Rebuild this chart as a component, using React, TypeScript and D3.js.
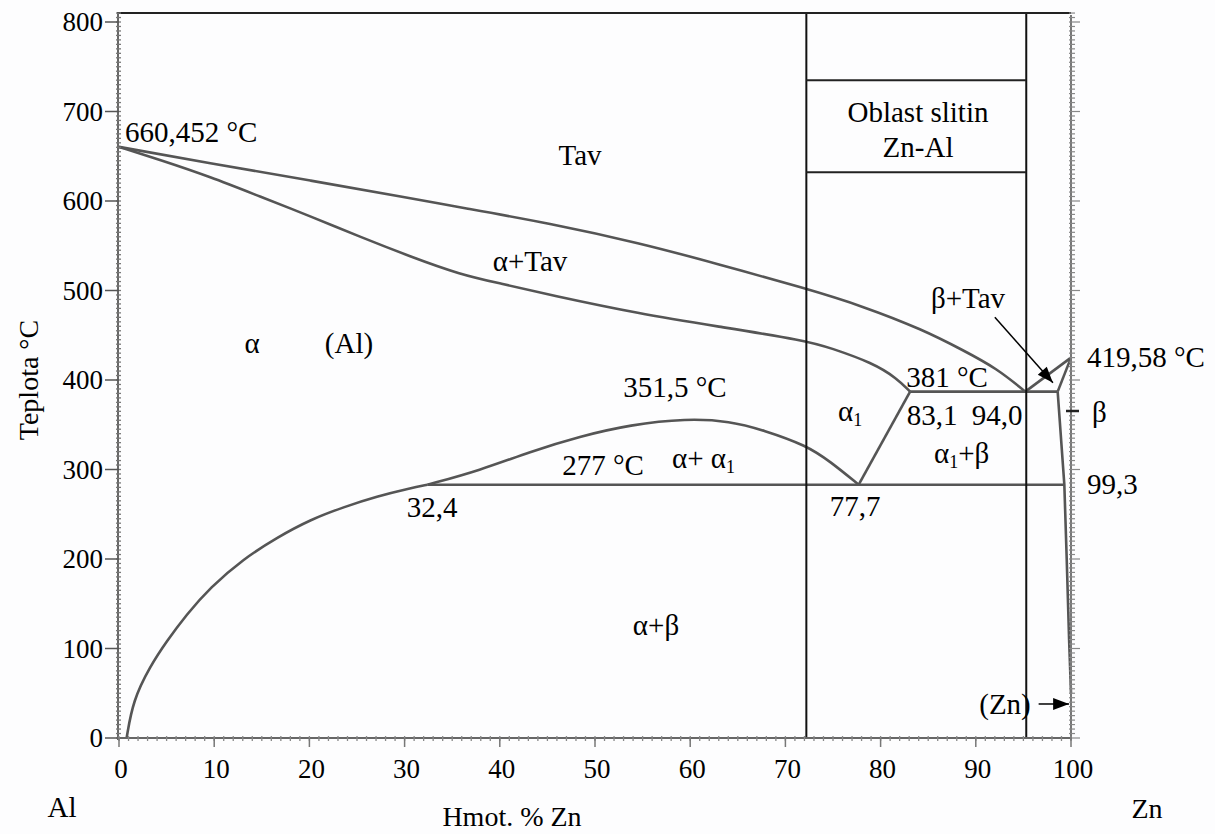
import React from "react";
import * as d3 from "d3";

// ---- data (wt.% Zn, temperature °C) ----
const X_TICKS = [0, 10, 20, 30, 40, 50, 60, 70, 80, 90, 100];
const Y_TICKS = [0, 100, 200, 300, 400, 500, 600, 700, 800];

const liquidusAl: [number, number][] = [
  [0, 660.452], [9.6, 642], [20.1, 623], [30.6, 603], [35.8, 593], [45.3, 575],
  [54.7, 553], [62.8, 530], [72.2, 502], [78, 483], [84.5, 456], [88.7, 433],
  [92.2, 413], [95.2, 387],
];
const solidusAl: [number, number][] = [
  [0, 660.452], [4.3, 646], [9.6, 627], [14.8, 605], [20.1, 583], [25.3, 560],
  [30.6, 538], [35.8, 518], [40, 508], [45.3, 495], [54.7, 474], [62.8, 460],
  [72.2, 444], [74.7, 436], [79.2, 419], [81.7, 402], [83.1, 387],
];
const alphaSolvus: [number, number][] = [
  [0.8, 0], [1.47, 42], [3.26, 80], [5.0, 108], [7.1, 138], [9.56, 168],
  [13.05, 200], [16.6, 224], [20.1, 244], [23.6, 258], [27.1, 270], [30.6, 279], [32.4, 283],
];
const miscibilityDome: [number, number][] = [
  [32.4, 283], [37.9, 299], [43.2, 320], [48.4, 337], [53.7, 350], [59.6, 357],
  [64.2, 354], [67.7, 344], [72.2, 327], [74.7, 309], [77.7, 283],
];
const alpha1Solvus: [number, number][] = [[77.7, 283], [83.1, 387]];
const eutecticLine: [number, number][] = [[83.1, 387], [98.6, 387]];
const monotectoidLine: [number, number][] = [[32.4, 283], [99.3, 283]];
const liquidusZn: [number, number][] = [[95.2, 387], [100, 425]];
const solidusZn: [number, number][] = [[98.6, 387], [100, 425]];
const betaSolvus: [number, number][] = [
  [98.6, 387], [99.3, 283], [99.55, 200], [99.8, 110], [100, 50],
];

const alloyBoxX = [72.2, 95.3];
const alloyBoxT = [632, 735];

const FONT = "'Liberation Serif', 'Times New Roman', serif";

export default function App() {
  const W = 1215, H = 834;
  const x = d3.scaleLinear().domain([0, 100]).range([119, 1071]);
  const y = d3.scaleLinear().domain([0, 800]).range([738, 22]);
  const T_TOP = 810;

  const smooth = d3.line<[number, number]>()
    .x(d => x(d[0])).y(d => y(d[1]))
    .curve(d3.curveBasis);
  const straight = d3.line<[number, number]>()
    .x(d => x(d[0])).y(d => y(d[1]));

  const curveStyle = { fill: "none", stroke: "#555", strokeWidth: 2.6, strokeLinejoin: "round" as const };

  const minorY = d3.range(0, 811, 5);
  const minorX = d3.range(0, 101, 1);

  const sub = (base: string, s: string, extra = "") => (
    <>
      {base}
      <tspan fontSize="0.62em" dy="5">{s}</tspan>
      {extra ? <tspan dy="-5">{extra}</tspan> : null}
    </>
  );

  const arrowPath = (x1: number, y1: number, x2: number, y2: number, len = 16, w = 6) => {
    const ang = Math.atan2(y2 - y1, x2 - x1);
    const bx = x2 - len * Math.cos(ang), by = y2 - len * Math.sin(ang);
    const px = -Math.sin(ang) * w, py = Math.cos(ang) * w;
    return `M${x2},${y2}L${bx + px},${by + py}L${bx - px},${by - py}Z`;
  };

  const a1 = { x1: x(92.0), y1: y(470), x2: x(98.1), y2: y(397) };
  const a2 = { x1: x(96.6), y1: y(38), x2: x(99.8), y2: y(38) };

  const AF = 29;

  return (
    <div style={{ position: "absolute", left: 0, top: 0 }}>
      <svg width={W} height={H} style={{ display: "block", background: "#fdfdfe", fontFamily: FONT }}>
        {/* curves */}
        <path d={smooth(liquidusAl) || ""} {...curveStyle} />
        <path d={smooth(solidusAl) || ""} {...curveStyle} />
        <path d={smooth(alphaSolvus) || ""} {...curveStyle} />
        <path d={smooth(miscibilityDome) || ""} {...curveStyle} />
        <path d={straight(alpha1Solvus) || ""} {...curveStyle} />
        <path d={straight(eutecticLine) || ""} {...curveStyle} />
        <path d={straight(monotectoidLine) || ""} {...curveStyle} />
        <path d={straight(liquidusZn) || ""} {...curveStyle} />
        <path d={straight(solidusZn) || ""} {...curveStyle} />
        <path d={straight(betaSolvus) || ""} {...curveStyle} />

        {/* alloy region box */}
        {alloyBoxX.map((v, i) => (
          <line key={"bv" + i} x1={x(v)} x2={x(v)} y1={y(T_TOP)} y2={y(0)} stroke="#111" strokeWidth={2} />
        ))}
        {alloyBoxT.map((t, i) => (
          <line key={"bh" + i} x1={x(alloyBoxX[0])} x2={x(alloyBoxX[1])} y1={y(t)} y2={y(t)} stroke="#222" strokeWidth={2} />
        ))}

        {/* frame top */}
        <line x1={x(0) - 2} x2={x(100)} y1={y(T_TOP)} y2={y(T_TOP)} stroke="#222" strokeWidth={2} />

        {/* left axis */}
        <line x1={x(0) - 1} x2={x(0) - 1} y1={y(T_TOP)} y2={y(0) + 2} stroke="#666" strokeWidth={2} />
        {minorY.map(t => (
          <line key={"ly" + t} x1={x(0) - 3} x2={x(0) + 2} y1={y(t)} y2={y(t)} stroke="#777" strokeWidth={1.3} />
        ))}
        {Y_TICKS.map(t => (
          <g key={"yt" + t}>
            <line x1={x(0) - 14} x2={x(0)} y1={y(t)} y2={y(t)} stroke="#555" strokeWidth={1.5} />
            <text x={x(0) - 16} y={y(t)} dy="0.35em" textAnchor="end" fontSize={27} fill="#000">{t}</text>
          </g>
        ))}

        {/* right axis */}
        <line x1={x(100)} x2={x(100)} y1={y(T_TOP) + 2} y2={y(0) + 2} stroke="#777" strokeWidth={2} />
        {minorY.map(t => (
          <line key={"ry" + t} x1={x(100) - 2} x2={x(100) + (t % 100 === 0 ? 9 : 4)} y1={y(t)} y2={y(t)} stroke="#888" strokeWidth={1.2} />
        ))}

        {/* bottom axis */}
        <line x1={x(0) - 2} x2={x(100) + 1} y1={y(0)} y2={y(0)} stroke="#666" strokeWidth={2} />
        {minorX.map(v => (
          <line key={"mx" + v} x1={x(v)} x2={x(v)} y1={y(0) - 2} y2={y(0) + 3} stroke="#888" strokeWidth={1.3} />
        ))}
        {X_TICKS.map(v => (
          <g key={"xt" + v}>
            <line x1={x(v)} x2={x(v)} y1={y(0)} y2={y(0) + 9} stroke="#777" strokeWidth={1.5} />
            <text x={x(v) + 2} y={y(0) + 31} dy="0.35em" textAnchor="middle" fontSize={27} fill="#000">{v}</text>
          </g>
        ))}

        {/* axis titles */}
        <text x={512} y={816} dy="0.35em" textAnchor="middle" fontSize={28}>Hmot. % Zn</text>
        <text transform="translate(28,380) rotate(-90)" dy="0.35em" textAnchor="middle" fontSize={28}>Teplota °C</text>
        <text x={62} y={807} dy="0.35em" textAnchor="middle" fontSize={29}>Al</text>
        <text x={1147} y={808} dy="0.35em" textAnchor="middle" fontSize={28}>Zn</text>

        {/* region box text */}
        <text x={918} y={112} dy="0.35em" textAnchor="middle" fontSize={29}>Oblast slitin</text>
        <text x={918} y={147} dy="0.35em" textAnchor="middle" fontSize={29}>Zn-Al</text>

        {/* annotations */}
        <g fontSize={AF} fill="#000">
          <text x={125} y={132} dy="0.35em">660,452 °C</text>
          <text x={580} y={155} dy="0.35em" textAnchor="middle">Tav</text>
          <text x={530} y={261} dy="0.35em" textAnchor="middle">α+Tav</text>
          <text x={252} y={343} dy="0.35em" textAnchor="middle">α</text>
          <text x={349} y={343} dy="0.35em" textAnchor="middle">(Al)</text>
          <text x={675} y={387} dy="0.35em" textAnchor="middle">351,5 °C</text>
          <text x={603} y={465} dy="0.35em" textAnchor="middle">277 °C</text>
          <text x={672} y={458} dy="0.35em">{sub("α+ α", "1")}</text>
          <text x={432} y={507} dy="0.35em" textAnchor="middle">32,4</text>
          <text x={855} y={506} dy="0.35em" textAnchor="middle">77,7</text>
          <text x={838} y={411} dy="0.35em">{sub("α", "1")}</text>
          <text x={947} y={377} dy="0.35em" textAnchor="middle">381 °C</text>
          <text x={932} y={415} dy="0.35em" textAnchor="middle">83,1</text>
          <text x={997} y={415} dy="0.35em" textAnchor="middle">94,0</text>
          <text x={934} y={453} dy="0.35em">{sub("α", "1", "+β")}</text>
          <text x={968} y={298} dy="0.35em" textAnchor="middle">β+Tav</text>
          <text x={1087} y={357} dy="0.35em">419,58 °C</text>
          <text x={1092} y={412} dy="0.35em">β</text>
          <text x={1087} y={484} dy="0.35em">99,3</text>
          <text x={656} y={625} dy="0.35em" textAnchor="middle">α+β</text>
          <text x={1005} y={704} dy="0.35em" textAnchor="middle">(Zn)</text>
        </g>
        <line x1={1066} x2={1079} y1={411} y2={411} stroke="#222" strokeWidth={2.5} />

        {/* arrows */}
        <line x1={a1.x1} y1={a1.y1} x2={a1.x2} y2={a1.y2} stroke="#000" strokeWidth={1.5} />
        <path d={arrowPath(a1.x1, a1.y1, a1.x2, a1.y2)} fill="#000" />
        <line x1={a2.x1} y1={a2.y1} x2={a2.x2} y2={a2.y2} stroke="#000" strokeWidth={1.5} />
        <path d={arrowPath(a2.x1, a2.y1, a2.x2, a2.y2)} fill="#000" />
      </svg>
    </div>
  );
}
